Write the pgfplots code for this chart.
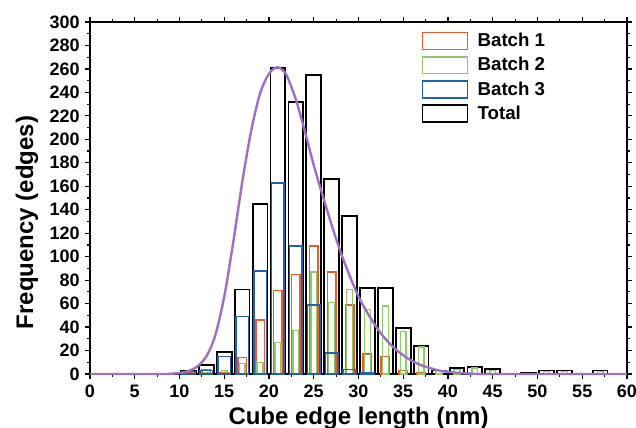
\documentclass[border=0pt]{standalone}
\usepackage{pgfplots}
\pgfplotsset{compat=1.18}
\usepackage{fontspec}
\setmainfont{Liberation Sans}
\definecolor{cred}{HTML}{F05A2A}
\definecolor{cgreen}{HTML}{8CCB66}
\definecolor{cblue}{HTML}{2360B2}
\definecolor{cpurple}{HTML}{9D70C6}
\begin{document}
\begin{tikzpicture}
\begin{axis}[
  at={(0,0)}, anchor=south west,
  scale only axis, width=402.75pt, height=264pt,
  xmin=0, xmax=60, ymin=0, ymax=300,
  xtick={0,5,...,60}, ytick={0,20,...,300},
  minor x tick num=1, minor y tick num=1,
  tick align=outside,
  major tick length=3.75pt, minor tick length=2.2pt,
  every tick/.style={black, line width=0.9pt},
  axis line style={line width=1pt},
  /pgf/number format/assume math mode=true,
  ticklabel style={font=\fontsize{13.5}{16}\selectfont\bfseries},
  xticklabel style={yshift=-1pt},
  yticklabel style={xshift=-0.5pt},
  xlabel={Cube edge length (nm)},
  ylabel={Frequency (edges)},
  label style={font=\fontsize{18}{22}\selectfont\bfseries},
  xlabel style={at={(axis description cs:0.5,-0.143)}, anchor=base},
  ylabel style={at={(axis description cs:-0.1061,0.43)}, anchor=base},
  legend style={draw=none, fill=none, at={(rel axis cs:0.617,0.9765)}, anchor=north west,
    font=\fontsize{14}{16}\selectfont\bfseries, row sep=2.5pt, column sep=5pt, inner sep=0pt,
    nodes={inner sep=2pt}},
  legend cell align=left,
  legend image code/.code={\draw[#1, line width=1.3pt, fill=white] (0pt,-6.3pt) rectangle (33.75pt,6.3pt);},
  clip=false,
]
% Total
\addplot[ybar, bar width=1.65, bar shift=0pt, draw=black, fill=white, line width=1.4pt, forget plot] coordinates {
(11,3) (13,8) (15,19) (17,72) (19,145) (21,261) (23,232) (25,255) (27,166) (29,135)
(31,73) (33,73) (35,39) (37,24) (39,3) (41,5) (43,6) (45,4) (49,1) (51,3) (53,3) (57,3)};
% Batch 1 (red)
\addplot[ybar, bar width=0.95, bar shift=0pt, draw=cred, fill=none, line width=1.1pt, forget plot] coordinates {
(11,1) (13,4) (15,1) (17,14) (19,46) (21,71) (23,85) (25,109) (27,87) (29,59)
(31,17) (33,15) (35,3) (37,1)};
% Batch 2 (green)
\addplot[ybar, bar width=0.65, bar shift=0pt, draw=cgreen, fill=none, line width=1.1pt, forget plot] coordinates {
(13,1) (15,3) (17,9) (19,10) (21,27) (23,37) (25,87) (27,61) (29,72)
(31,55) (33,58) (35,36) (37,23) (39,3) (41,4) (43,5) (45,3) (51,2) (53,2) (57,2)};
% Batch 3 (blue)
\addplot[ybar, bar width=1.4, bar shift=0pt, draw=cblue, fill=none, line width=1.2pt, forget plot] coordinates {
(11,2) (13,3) (15,15) (17,49) (19,88) (21,163) (23,109) (25,59) (27,18) (29,4) (31,1)};
% fit curve
\addplot[cpurple, line width=1.8pt, smooth, forget plot] coordinates {
(0,0) (8,0) (9,0.2) (10,0.8) (11,2.5) (12,6.5) (13,15) (14,33) (15,66) (16,112) (17,163)
(18,207) (19,239) (20,256) (20.9,261.5) (21.5,259) (22,254) (23,234) (24,207) (25,178)
(26,152) (27,127) (28,104) (29,84) (30,66) (31,52) (32,40) (33,30) (34,22) (35,16)
(36,11) (37,7.5) (38,5) (39,3) (40,1.8) (41,1) (42,0.5) (43,0.2) (44,0) (60,0)};
\addlegendimage{draw=cred}
\addlegendentry{Batch 1}
\addlegendimage{draw=cgreen}
\addlegendentry{Batch 2}
\addlegendimage{draw=cblue}
\addlegendentry{Batch 3}
\addlegendimage{draw=black}
\addlegendentry{Total}
\end{axis}
\pgfresetboundingbox
\useasboundingbox (-67.5pt,-40.5pt) rectangle (409.5pt,280.5pt);
\end{tikzpicture}
\end{document}
